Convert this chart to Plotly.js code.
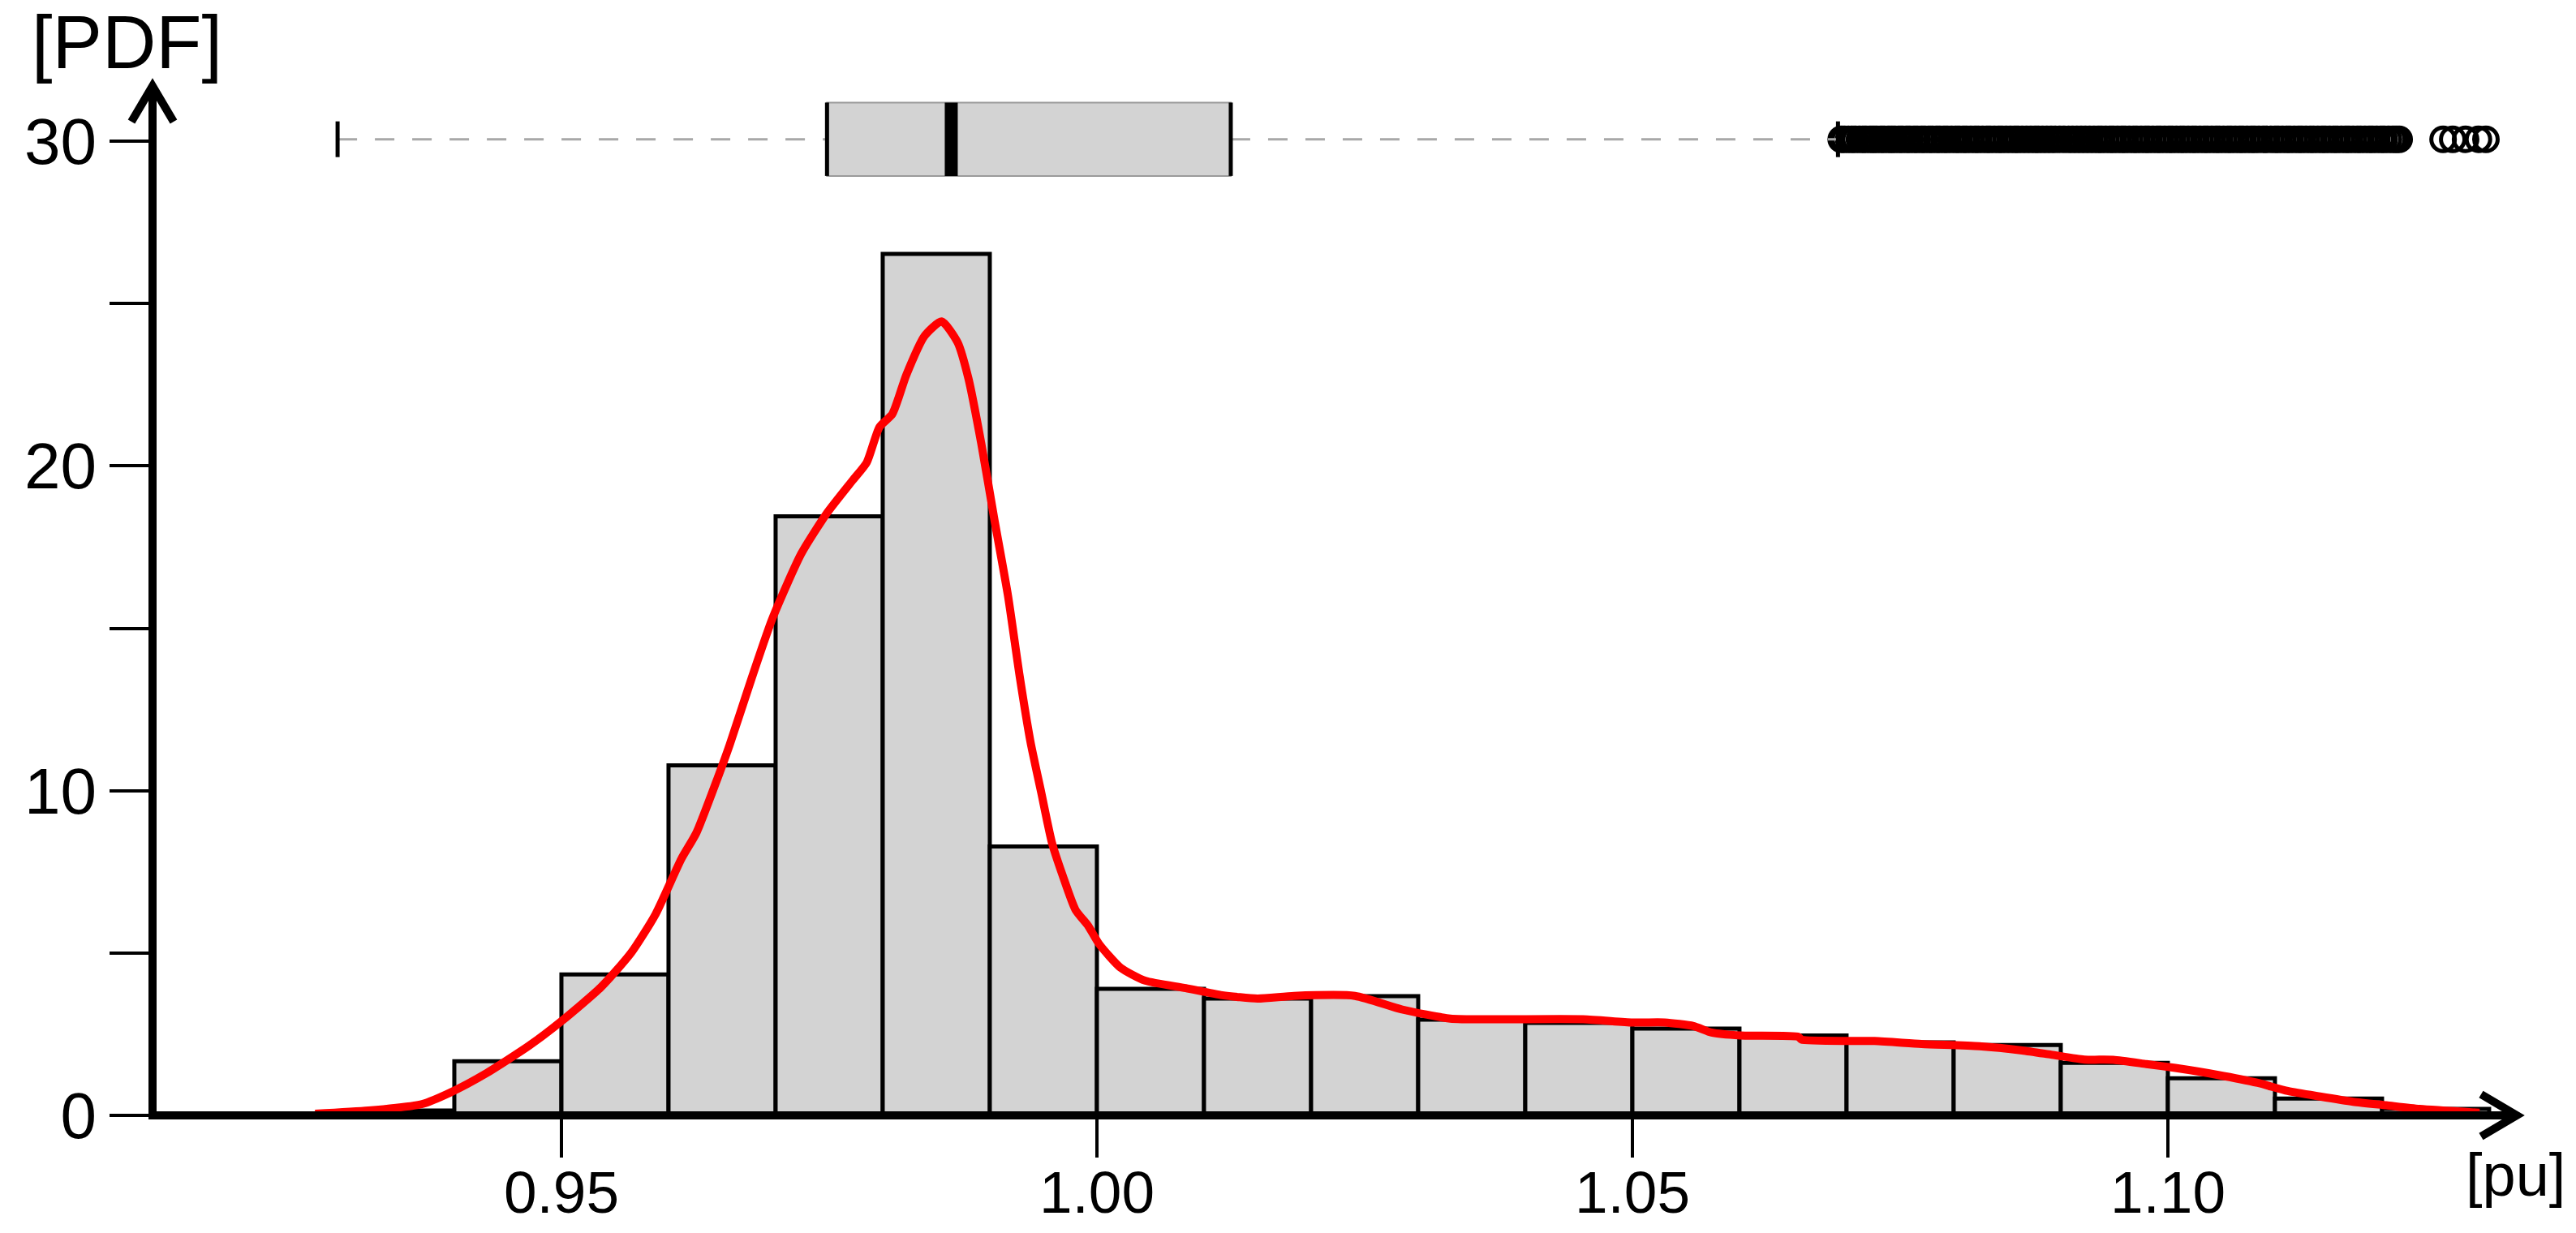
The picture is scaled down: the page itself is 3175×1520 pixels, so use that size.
<!DOCTYPE html>
<html>
<head>
<meta charset="utf-8">
<script src="https://cdn.plot.ly/plotly-3.0.1.min.js"></script>
<style>html,body{margin:0;padding:0;background:#fff;}#chart{width:3175px;height:1520px;}</style>
</head>
<body>
<div id="chart"></div>
<script>
// ---------- data ----------
const binStart = [0.93, 0.94, 0.95, 0.96, 0.97, 0.98, 0.99, 1.00, 1.01, 1.02,
                  1.03, 1.04, 1.05, 1.06, 1.07, 1.08, 1.09, 1.10, 1.11, 1.12];
const binWidth = 0.01;
const histDensity = [0.15, 1.67, 4.34, 10.78, 18.45, 26.53, 8.28, 3.90, 3.60, 3.67,
                     2.95, 2.85, 2.67, 2.46, 2.25, 2.17, 1.62, 1.14, 0.52, 0.20];

const kdeX = [0.9270, 0.9320, 0.9370, 0.9396, 0.9430, 0.9470, 0.9500, 0.9537, 0.9565, 0.9588,
              0.9612, 0.9626, 0.9646, 0.9657, 0.9677, 0.9697, 0.9724, 0.9748, 0.9772, 0.9785,
              0.9797, 0.9809, 0.9822, 0.9839, 0.9855, 0.9870, 0.9880, 0.9892, 0.9904, 0.9917,
              0.9928, 0.9938, 0.9948, 0.9958, 0.9968, 0.9980, 0.9992, 1.0002, 1.0022, 1.0045,
              1.0083, 1.0117, 1.0150, 1.0184, 1.0241, 1.0285, 1.0330, 1.0376, 1.0454, 1.0500,
              1.0530, 1.0557, 1.0574, 1.0601, 1.0655, 1.0658, 1.0726, 1.0770, 1.0824, 1.0864,
              1.0891, 1.0922, 1.0949, 1.0980, 1.1007, 1.1046, 1.1084, 1.1112, 1.1142, 1.1173,
              1.1204, 1.1235, 1.1291];
const kdeY = [0.05, 0.15, 0.35, 0.70, 1.30, 2.15, 2.90, 3.95, 5.00, 6.20,
              7.90, 8.70, 10.40, 11.40, 13.40, 15.30, 17.30, 18.55, 19.56, 20.10,
              21.20, 21.60, 22.80, 24.00, 24.45, 23.80, 22.70, 20.70, 18.40, 16.00,
              13.50, 11.50, 9.95, 8.40, 7.39, 6.33, 5.83, 5.28, 4.55, 4.15,
              3.92, 3.70, 3.60, 3.68, 3.68, 3.26, 2.98, 2.96, 2.96, 2.86,
              2.86, 2.75, 2.55, 2.46, 2.42, 2.33, 2.29, 2.20, 2.13, 2.00,
              1.87, 1.72, 1.71, 1.58, 1.46, 1.25, 1.00, 0.75, 0.58, 0.42,
              0.31, 0.20, 0.08];

const boxWhiskerLow = 0.9291;
const boxQ1 = 0.9748;
const boxMedian = 0.9864;
const boxQ3 = 1.0125;
const boxWhiskerHigh = 1.0692;
const outliers = [
  1.0695, 1.0698, 1.0702, 1.0705, 1.0708, 1.0712, 1.0715, 1.0718, 1.0722, 1.0725,
  1.0728, 1.0732, 1.0735, 1.0739, 1.0742, 1.0745, 1.0749, 1.0752, 1.0756, 1.0759,
  1.0763, 1.0766, 1.0770, 1.0773, 1.0777, 1.0780, 1.0784, 1.0787, 1.0791, 1.0794,
  1.0798, 1.0802, 1.0805, 1.0809, 1.0812, 1.0816, 1.0820, 1.0823, 1.0827, 1.0831,
  1.0834, 1.0838, 1.0842, 1.0845, 1.0849, 1.0853, 1.0857, 1.0860, 1.0864, 1.0868,
  1.0872, 1.0876, 1.0879, 1.0883, 1.0887, 1.0891, 1.0895, 1.0899, 1.0903, 1.0907,
  1.0911, 1.0915, 1.0919, 1.0923, 1.0927, 1.0931, 1.0935, 1.0938, 1.0942, 1.0946,
  1.0949, 1.0953, 1.0957, 1.0960, 1.0964, 1.0968, 1.0971, 1.0975, 1.0979, 1.0982,
  1.0986, 1.0990, 1.0993, 1.0997, 1.1001, 1.1004, 1.1008, 1.1012, 1.1015, 1.1019,
  1.1023, 1.1026, 1.1030, 1.1034, 1.1037, 1.1041, 1.1045, 1.1048, 1.1052, 1.1056,
  1.1059, 1.1063, 1.1067, 1.1070, 1.1074, 1.1078, 1.1081, 1.1085, 1.1089, 1.1092,
  1.1096, 1.1100, 1.1103, 1.1107, 1.1111, 1.1114, 1.1118, 1.1122, 1.1125, 1.1129,
  1.1133, 1.1136, 1.1140, 1.1144, 1.1147, 1.1151, 1.1155, 1.1158, 1.1162, 1.1166,
  1.1169, 1.1173, 1.1177, 1.1180, 1.1184, 1.1188, 1.1191, 1.1195, 1.1199, 1.1202,
  1.1206, 1.1210, 1.1213, 1.1216, 1.1257, 1.1266, 1.1278, 1.1290, 1.1297];

const xTickVals = [0.95, 1.00, 1.05, 1.10];
const xTickText = ['0.95', '1.00', '1.05', '1.10'];
const yTickVals = [0, 5, 10, 15, 20, 25, 30];
const yTickText = ['0', '', '10', '', '20', '', '30'];

// ---------- layout geometry ----------
const W = 3175, H = 1520;
const plotL = 188, plotR = 3102, plotT = 106, plotB = 1375;
const xRange = [0.91182, 1.13258];
const yRange = [0, 31.70];
const boxY = 30.06, boxHalf = 1.13, capHalf = 0.55;
const FONT = 'Liberation Sans, Arial, Helvetica, sans-serif';

function px(x) { return (x - plotL) / (plotR - plotL); }
function py(y) { return (plotB - y) / (plotB - plotT); }

const barTrace = {
  type: 'bar',
  x: binStart,
  y: histDensity,
  width: binStart.map(() => binWidth),
  offset: 0,
  marker: { color: '#D3D3D3', line: { color: '#000000', width: 5 } },
  hoverinfo: 'skip'
};

const kdeTrace = {
  type: 'scatter',
  mode: 'lines',
  x: kdeX,
  y: kdeY,
  line: { color: '#FF0000', width: 10, shape: 'spline', smoothing: 0.6 },
  hoverinfo: 'skip'
};

const outlierTrace = {
  type: 'scatter',
  mode: 'markers',
  x: outliers,
  y: outliers.map(() => boxY),
  marker: { symbol: 'circle-open', size: 29, color: '#000000', line: { color: '#000000', width: 5 } },
  cliponaxis: false,
  hoverinfo: 'skip'
};

const shapes = [
  // box plot whiskers (dashed)
  { type: 'line', xref: 'x', yref: 'y', x0: boxWhiskerLow, x1: boxQ1, y0: boxY, y1: boxY,
    line: { color: '#A8A8A8', width: 3, dash: '24px,22px' } },
  { type: 'line', xref: 'x', yref: 'y', x0: boxQ3, x1: boxWhiskerHigh, y0: boxY, y1: boxY,
    line: { color: '#A8A8A8', width: 3, dash: '24px,22px' } },
  // box
  { type: 'rect', xref: 'x', yref: 'y', x0: boxQ1, x1: boxQ3, y0: boxY - boxHalf, y1: boxY + boxHalf,
    fillcolor: '#D3D3D3', line: { color: '#9A9A9A', width: 2 } },
  { type: 'line', xref: 'x', yref: 'y', x0: boxQ1, x1: boxQ1, y0: boxY - boxHalf, y1: boxY + boxHalf,
    line: { color: '#000000', width: 5 } },
  { type: 'line', xref: 'x', yref: 'y', x0: boxQ3, x1: boxQ3, y0: boxY - boxHalf, y1: boxY + boxHalf,
    line: { color: '#000000', width: 5 } },
  { type: 'line', xref: 'x', yref: 'y', x0: boxMedian, x1: boxMedian, y0: boxY - boxHalf, y1: boxY + boxHalf,
    line: { color: '#000000', width: 16 } },
  // whisker caps
  { type: 'line', xref: 'x', yref: 'y', x0: boxWhiskerLow, x1: boxWhiskerLow, y0: boxY - capHalf, y1: boxY + capHalf,
    line: { color: '#000000', width: 5 } },
  { type: 'line', xref: 'x', yref: 'y', x0: boxWhiskerHigh, x1: boxWhiskerHigh, y0: boxY - capHalf, y1: boxY + capHalf,
    line: { color: '#000000', width: 5 } },
  // axis lines with open arrowheads
  { type: 'line', xref: 'paper', yref: 'paper', x0: 0, x1: 0, y0: py(1380), y1: py(plotT + 3),
    line: { color: '#000000', width: 10 } },
  { type: 'line', xref: 'paper', yref: 'paper', x0: px(183), x1: px(plotR - 3), y0: py(plotB), y1: py(plotB),
    line: { color: '#000000', width: 10 } },
  { type: 'path', xref: 'paper', yref: 'paper',
    path: 'M' + px(162) + ',' + py(150) + ' L' + px(188) + ',' + py(106) + ' L' + px(214) + ',' + py(150),
    line: { color: '#000000', width: 10 } },
  { type: 'path', xref: 'paper', yref: 'paper',
    path: 'M' + px(3058) + ',' + py(1349) + ' L' + px(3102) + ',' + py(1375) + ' L' + px(3058) + ',' + py(1401),
    line: { color: '#000000', width: 10 } }
];

const annotations = [
  { text: '[PDF]', xref: 'paper', yref: 'paper', x: px(156), y: py(52), xanchor: 'center', yanchor: 'middle',
    showarrow: false, font: { family: FONT, size: 92, color: '#000000' } },
  { text: '[pu]', xref: 'paper', yref: 'paper', x: px(3100), y: py(1448), xanchor: 'center', yanchor: 'middle',
    showarrow: false, font: { family: FONT, size: 74, color: '#000000' } }
];

const layout = {
  width: W, height: H,
  margin: { l: plotL, r: W - plotR, t: plotT, b: H - plotB, pad: 0 },
  paper_bgcolor: '#FFFFFF', plot_bgcolor: '#FFFFFF',
  showlegend: false,
  bargap: 0,
  font: { family: FONT, color: '#000000' },
  xaxis: {
    range: xRange, tickmode: 'array', tickvals: xTickVals, ticktext: xTickText,
    ticks: 'outside', ticklen: 51, tickwidth: 4, tickcolor: '#000000',
    ticklabelstandoff: -20,
    showline: false, showgrid: false, zeroline: false,
    tickfont: { family: FONT, size: 73, color: '#000000' }
  },
  yaxis: {
    range: yRange, tickmode: 'array', tickvals: yTickVals, ticktext: yTickText,
    ticks: 'outside', ticklen: 52, tickwidth: 4, tickcolor: '#000000',
    showline: false, showgrid: false, zeroline: false,
    tickfont: { family: FONT, size: 80, color: '#000000' }
  },
  shapes: shapes,
  annotations: annotations
};

Plotly.newPlot('chart', [barTrace, kdeTrace, outlierTrace], layout, { staticPlot: true, displayModeBar: false });
</script>
</body>
</html>
